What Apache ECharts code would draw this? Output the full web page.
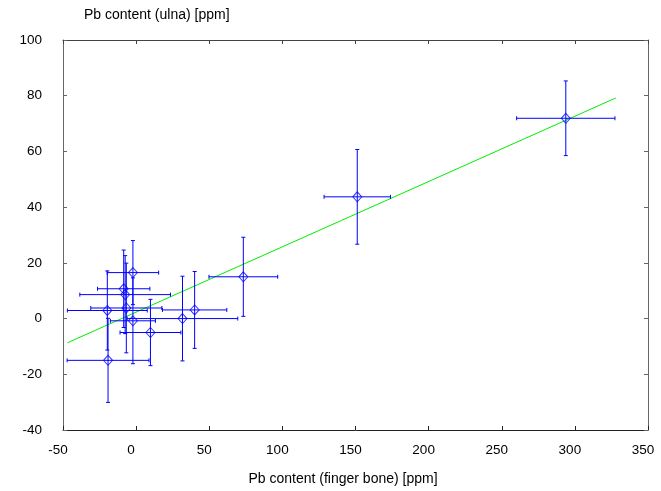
<!DOCTYPE html>
<html>
<head>
<meta charset="utf-8">
<script src="https://cdn.jsdelivr.net/npm/echarts@6/dist/echarts.min.js"></script>
<style>html,body{margin:0;padding:0;background:#fff;}#c{width:661px;height:491px;}</style>
</head>
<body>
<div id="c"></div>
<script>
// Data
var xs   = [293.8, 151.2, 73.3, 40.0, 31.7, 9.8, -2.2, -2.2, -8.5, -7.5, -6.7, -19.7, -19.2];
var ys   = [71.9, 43.7, 15.0, 3.1, 0.0, -5.0, 16.5, -0.8, 10.7, 8.6, 3.8, 2.9, -15.0];
var xErr = [33.6, 22.7, 23.5, 22.0, 37.8, 20.8, 17.6, 15.4, 17.9, 31.0, 24.3, 27.3, 28.0];
var yErr = [13.4, 17.0, 14.2, 13.8, 15.2, 11.9, 11.5, 15.4, 13.9, 14.0, 16.1, 14.2, 15.1];
var fitX = [-47, 328];
var fitY = [-8.7, 79.2];
var xTicks = [-50, 0, 50, 100, 150, 200, 250, 300, 350];
var yTicks = [-40, -20, 0, 20, 40, 60, 80, 100];

var points = xs.map(function (x, i) { return [x, ys[i]]; });
var errData = xs.map(function (x, i) { return [x, ys[i], xErr[i], yErr[i]]; });
var fitData = fitX.map(function (x, i) { return [x, fitY[i]]; });

var FONT = 'Liberation Sans, Arial, Helvetica, sans-serif';
var BLUE = '#0000ff';

function renderErr(params, api) {
  var x = api.value(0), y = api.value(1), ex = api.value(2), ey = api.value(3);
  var l = api.coord([x - ex, y]), r = api.coord([x + ex, y]);
  var t = api.coord([x, y + ey]), b = api.coord([x, y - ey]);
  var c = 2;
  var style = { stroke: BLUE, lineWidth: 1, fill: null };
  return {
    type: 'group',
    children: [
      { type: 'line', shape: { x1: l[0], y1: l[1], x2: r[0], y2: r[1] }, style: style },
      { type: 'line', shape: { x1: l[0], y1: l[1] - c, x2: l[0], y2: l[1] + c }, style: style },
      { type: 'line', shape: { x1: r[0], y1: r[1] - c, x2: r[0], y2: r[1] + c }, style: style },
      { type: 'line', shape: { x1: t[0], y1: t[1], x2: b[0], y2: b[1] }, style: style },
      { type: 'line', shape: { x1: t[0] - c, y1: t[1], x2: t[0] + c, y2: t[1] }, style: style },
      { type: 'line', shape: { x1: b[0] - c, y1: b[1], x2: b[0] + c, y2: b[1] }, style: style }
    ]
  };
}

var chart = echarts.init(document.getElementById('c'), null, { renderer: 'canvas' });
chart.setOption({
  backgroundColor: '#fff',
  animation: false,
  grid: { left: 63, width: 585, top: 40, height: 390, containLabel: false },
  xAxis: [{
    type: 'value', min: xTicks[0], max: xTicks[xTicks.length - 1], interval: 50,
    position: 'bottom',
    name: 'Pb content (finger bone) [ppm]', nameLocation: 'middle', nameGap: 42,
    nameTextStyle: { color: '#000', fontFamily: FONT, fontSize: 14, padding: [0, 25, 0, 0] },
    axisLine: { show: true, onZero: false, lineStyle: { color: '#222', width: 1 } },
    axisTick: { show: true, inside: true, length: 4, lineStyle: { color: '#222' } },
    axisLabel: { color: '#000', fontFamily: FONT, fontSize: 13.5, margin: 13, padding: [0, 10, 0, 0] },
    splitLine: { show: false }
  }, {
    type: 'value', min: xTicks[0], max: xTicks[xTicks.length - 1], interval: 50,
    position: 'top',
    axisLine: { show: true, onZero: false, lineStyle: { color: '#444', width: 1 } },
    axisTick: { show: true, inside: true, length: 4, lineStyle: { color: '#444' } },
    axisLabel: { show: false },
    splitLine: { show: false }
  }],
  yAxis: [{
    type: 'value', min: yTicks[0], max: yTicks[yTicks.length - 1], interval: 20,
    position: 'left',
    name: 'Pb content (ulna) [ppm]', nameLocation: 'end', nameGap: 18,
    nameTextStyle: { color: '#000', fontFamily: FONT, fontSize: 14, align: 'left', padding: [0, 0, 0, 21] },
    axisLine: { show: true, onZero: false, lineStyle: { color: '#666', width: 1 } },
    axisTick: { show: true, inside: true, length: 4, lineStyle: { color: '#666' } },
    axisLabel: { color: '#000', fontFamily: FONT, fontSize: 13.5, margin: 21 },
    splitLine: { show: false }
  }, {
    type: 'value', min: yTicks[0], max: yTicks[yTicks.length - 1], interval: 20,
    position: 'right',
    axisLine: { show: true, onZero: false, lineStyle: { color: '#666', width: 1 } },
    axisTick: { show: true, inside: true, length: 4, lineStyle: { color: '#666' } },
    axisLabel: { show: false },
    splitLine: { show: false }
  }],
  series: [{
    type: 'line',
    data: fitData,
    symbol: 'none',
    lineStyle: { color: '#00ee00', width: 1 },
    z: 2
  }, {
    type: 'custom',
    renderItem: renderErr,
    data: errData,
    encode: { x: 0, y: 1 },
    z: 3
  }, {
    type: 'scatter',
    data: points,
    symbol: 'diamond',
    symbolSize: [9, 10],
    itemStyle: { color: 'rgba(0,0,0,0)', borderColor: BLUE, borderWidth: 1 },
    z: 4
  }]
});
</script>
</body>
</html>
